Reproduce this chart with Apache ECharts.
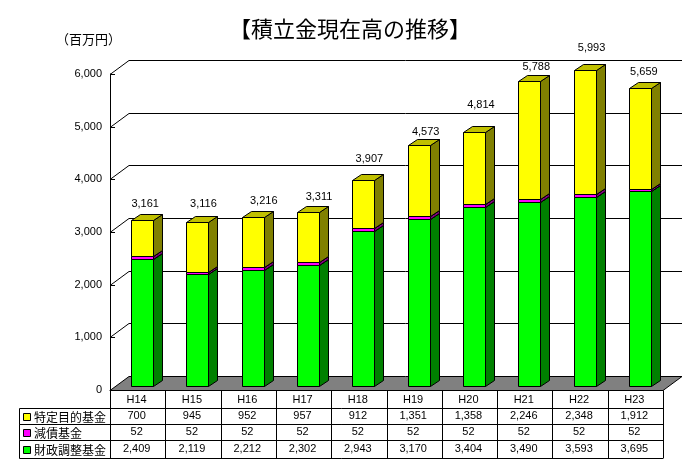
<!DOCTYPE html>
<html><head><meta charset="utf-8">
<style>html,body{margin:0;padding:0;background:#fff}#c{width:700px;height:468px}</style>
<script src="https://cdn.jsdelivr.net/npm/echarts@6/dist/echarts.min.js"></script>
</head><body><div id="c"></div>
<script>
const categories = ['H14','H15','H16','H17','H18','H19','H20','H21','H22','H23'];
const tokutei = [700,945,952,957,912,1351,1358,2246,2348,1912];
const gensai = [52,52,52,52,52,52,52,52,52,52];
const zaisei = [2409,2119,2212,2302,2943,3170,3404,3490,3593,3695];
const totals = [3161,3116,3216,3311,3907,4573,4814,5788,5993,5659];
const yTicks = [0,1000,2000,3000,4000,5000,6000];
const rowNames = ['特定目的基金','減債基金','財政調整基金'];
const title = '【積立金現在高の推移】';
const unit = '（百万円）';

const NUM = '"Liberation Sans",sans-serif';
const JP = '"Noto Sans CJK JP",sans-serif';
const fmt = v => v.toLocaleString('en-US');
const px = v => Math.round(v) + 0.5;
const BLK = {stroke:'#000',lineWidth:1};
const DX = 9, DY = 6, BW = 22, OX = 4.5, OY = -4;
const WX = 19, WY = -14;
// hand placement of the total labels in the reference (dx, lift above bar top)
const labelDx = [3,6,11,11,6,7,7,7,7,4];
const labelLift = [16,18,16,15,21,13,27,14,22,16];
const rowY = [408,424,440,458];
const leftX = 19.5;

function line(x1,y1,x2,y2,z){return {type:'line',z2:z||0,shape:{x1,y1,x2,y2},style:{stroke:'#000',lineWidth:1}};}
function poly(points,fill,z){return {type:'polygon',z2:z||0,shape:{points},style:Object.assign({fill},BLK)};}
function txt(text,x,y,align,font,size,z){return {type:'text',z2:z||5,style:{text,x,y,align,verticalAlign:'middle',fill:'#000',fontFamily:font,fontSize:size}};}

function wall(params,api){
  const s = params.coordSys, c = api.coord([0,api.value(1)]);
  const y = px(c[1]), L = s.x, R = s.x+s.width;
  if(api.value(1)===0){
    return {type:'group',children:[poly([[L,y],[L+WX,y+WY],[R+WX,y+WY],[R,y]],'#808080')]};
  }
  return {type:'group',children:[line(L,y,L+WX,y+WY),line(L+WX,y+WY,R+WX,y+WY),line(L,y,L+5,y)]};
}
function segment(front,side,top){
  return function(params,api){
    const i = api.value(0), a = api.coord([i,api.value(1)]), b = api.coord([i,api.value(2)]);
    const x0 = px(a[0]+OX-BW/2), x1 = x0+BW, y0 = px(a[1]+OY), y1 = px(b[1]+OY);
    return {type:'group',children:[
      poly([[x1,y0],[x1+DX,y0-DY],[x1+DX,y1-DY],[x1,y1]],side),
      poly([[x0,y1],[x0+DX,y1-DY],[x1+DX,y1-DY],[x1,y1]],top),
      poly([[x0,y0],[x1,y0],[x1,y1],[x0,y1]],front)
    ]};
  };
}
function totalLabel(params,api){
  const i = api.value(0), c = api.coord([i,api.value(1)]);
  return txt(fmt(totals[i]),c[0]+OX+labelDx[i],c[1]+OY-labelLift[i],'center',NUM,11);
}
function tableCol(params,api){
  const i = api.value(0), s = params.coordSys, c = api.coord([i,0]), band = api.size([1,0])[0];
  const l = px(s.x+band*i), r = px(s.x+band*(i+1)), base = px(s.y+s.height), ch = [];
  ch.push(line(r,base,r,px(rowY[3])));
  if(i===0) ch.push(line(l,base,l,px(rowY[3])));
  [tokutei,gensai,zaisei].forEach((arr,k)=>{
    ch.push(txt(fmt(arr[i]),c[0]-1,(rowY[k]+rowY[k+1])/2,'center',NUM,11));
  });
  return {type:'group',children:ch};
}
function tableHead(params,api){
  const s = params.coordSys, k = api.value(0), R = s.x+s.width;
  const colors = ['#FFFF00','#FF00FF','#00FF00'];
  const yT = px(rowY[k]), yB = px(rowY[k+1]), ym = (yT+yB)/2;
  const ch = [line(leftX,yT,R,yT),line(leftX,yB,R,yB),line(leftX,yT,leftX,yB)];
  ch.push({type:'rect',z2:4,shape:{x:23.5,y:Math.round(ym)-3.5,width:7,height:7},style:Object.assign({fill:colors[k]},BLK)});
  ch.push(txt(rowNames[k],34,ym+0.5,'left',JP,12));
  return {type:'group',children:ch};
}
const idx = categories.map((_,i)=>i);
const base = {type:'custom',silent:true,animation:false,clip:false};
const enc = {x:0,y:[1,2]};
const option = {
  animation:false,backgroundColor:'#fff',
  title:{text:title,left:'center',top:13,textStyle:{fontFamily:JP,fontSize:22,fontWeight:400,color:'#000'}},
  graphic:[{type:'text',left:56,top:33,style:{text:unit,fill:'#000',fontFamily:JP,fontSize:13}}],
  grid:{left:110,top:74,width:553,height:316,containLabel:false},
  xAxis:{type:'category',data:categories,axisTick:{show:false},
    axisLine:{lineStyle:{color:'#000',width:1}},
    axisLabel:{color:'#000',fontFamily:NUM,fontSize:11,margin:4,interval:0,lineHeight:12,padding:[0,2,0,0]},z:10},
  yAxis:{type:'value',min:0,max:6000,interval:1000,splitLine:{show:false},
    axisTick:{show:false},
    axisLine:{show:true,lineStyle:{color:'#000',width:1}},
    axisLabel:{color:'#000',fontFamily:NUM,fontSize:11,margin:8,padding:[3,0,0,0],formatter:v=>fmt(v)}},
  series:[
    Object.assign({},base,{name:'walls',z:1,renderItem:wall,encode:{x:0,y:1},data:yTicks.map(v=>[0,v])}),
    Object.assign({},base,{name:rowNames[2],z:2,renderItem:segment('#00FF00','#008000','#00C000'),encode:enc,
      data:idx.map(i=>[i,0,zaisei[i]])}),
    Object.assign({},base,{name:rowNames[1],z:2,renderItem:segment('#FF00FF','#800080','#C000C0'),encode:enc,
      data:idx.map(i=>[i,zaisei[i],zaisei[i]+gensai[i]])}),
    Object.assign({},base,{name:rowNames[0],z:2,renderItem:segment('#FFFF00','#808000','#C0C000'),encode:enc,
      data:idx.map(i=>[i,zaisei[i]+gensai[i],zaisei[i]+gensai[i]+tokutei[i]])}),
    Object.assign({},base,{name:'totals',z:3,renderItem:totalLabel,encode:{x:0,y:1},data:idx.map(i=>[i,totals[i]])}),
    Object.assign({},base,{name:'table',z:4,renderItem:tableCol,encode:{x:0},data:idx.map(i=>[i,0])}),
    Object.assign({},base,{name:'tableHead',z:4,renderItem:tableHead,encode:{x:1},data:rowNames.map((_,k)=>[k,0])})
  ]
};
echarts.init(document.getElementById('c'),null,{renderer:'canvas'}).setOption(option);
</script></body></html>
